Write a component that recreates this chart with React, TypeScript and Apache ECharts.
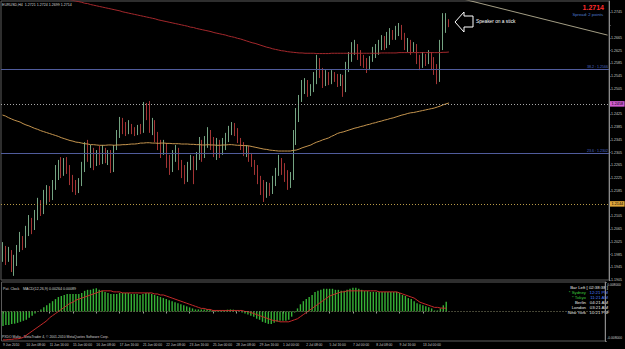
import React, { useEffect, useRef } from 'react';
import * as echarts from 'echarts';

const symbol = 'EURUSD,H4';
const timeLabels = ['9 Jun 2010', '10 Jun 08:00', '11 Jun 16:00', '15 Jun 00:00', '16 Jun 08:00', '17 Jun 16:00', '21 Jun 00:00', '22 Jun 08:00', '23 Jun 16:00', '25 Jun 00:00', '28 Jun 08:00', '29 Jun 16:00', '1 Jul 00:00', '2 Jul 08:00', '5 Jul 16:00', '7 Jul 00:00', '8 Jul 08:00', '9 Jul 16:00', '13 Jul 00:00'];
const labelEvery = 8;
const slotCount = 207;

const firstOpen = 1.1984;
const closes = [
  1.2006, 1.1974, 1.1993, 1.1952, 1.1962, 1.1999, 1.2031, 1.2015, 1.2056, 1.2087,
  1.2068, 1.2109, 1.2140, 1.2125, 1.2163, 1.2188, 1.2169, 1.2203, 1.2235, 1.2257,
  1.2244, 1.2276, 1.2250, 1.2219, 1.2200, 1.2188, 1.2213, 1.2250, 1.2313, 1.2288,
  1.2307, 1.2276, 1.2294, 1.2282, 1.2313, 1.2288, 1.2298, 1.2266, 1.2320, 1.2360,
  1.2401, 1.2382, 1.2370, 1.2389, 1.2376, 1.2370, 1.2382, 1.2376, 1.2439, 1.2423,
  1.2376, 1.2401, 1.2360, 1.2329, 1.2307, 1.2329, 1.2282, 1.2250, 1.2288, 1.2313,
  1.2266, 1.2244, 1.2225, 1.2257, 1.2282, 1.2257, 1.2288, 1.2320, 1.2298, 1.2338,
  1.2360, 1.2345, 1.2313, 1.2329, 1.2307, 1.2329, 1.2351, 1.2376, 1.2392, 1.2370,
  1.2345, 1.2329, 1.2313, 1.2320, 1.2294, 1.2276, 1.2257, 1.2225, 1.2203, 1.2181,
  1.2200, 1.2188, 1.2219, 1.2244, 1.2276, 1.2257, 1.2235, 1.2213, 1.2232, 1.2345,
  1.2414, 1.2470, 1.2502, 1.2520, 1.2495, 1.2508, 1.2533, 1.2590, 1.2558, 1.2527,
  1.2546, 1.2533, 1.2552, 1.2539, 1.2527, 1.2539, 1.2502, 1.2564, 1.2602, 1.2627,
  1.2640, 1.2612, 1.2596, 1.2583, 1.2571, 1.2596, 1.2615, 1.2627, 1.2643, 1.2659,
  1.2646, 1.2665, 1.2681, 1.2671, 1.2690, 1.2696, 1.2671, 1.2643, 1.2652, 1.2633,
  1.2643, 1.2602, 1.2580, 1.2602, 1.2590, 1.2612, 1.2596, 1.2571, 1.2533, 1.2643,
  1.2706, 1.2721, 1.2714,
];
const highs = [
  1.2024, 1.2012, 1.2009, 1.1999, 1.1984, 1.2015, 1.2056, 1.2043, 1.2075, 1.2109,
  1.2100, 1.2125, 1.2163, 1.2156, 1.2188, 1.2203, 1.2200, 1.2219, 1.2266, 1.2282,
  1.2291, 1.2288, 1.2291, 1.2266, 1.2235, 1.2219, 1.2225, 1.2276, 1.2338, 1.2345,
  1.2329, 1.2320, 1.2313, 1.2326, 1.2329, 1.2320, 1.2313, 1.2313, 1.2329, 1.2376,
  1.2417, 1.2414, 1.2401, 1.2407, 1.2395, 1.2385, 1.2392, 1.2395, 1.2464, 1.2461,
  1.2467, 1.2414, 1.2407, 1.2370, 1.2345, 1.2345, 1.2335, 1.2298, 1.2313, 1.2329,
  1.2320, 1.2282, 1.2266, 1.2276, 1.2298, 1.2294, 1.2307, 1.2354, 1.2345, 1.2357,
  1.2385, 1.2376, 1.2354, 1.2351, 1.2345, 1.2351, 1.2367, 1.2389, 1.2401, 1.2398,
  1.2382, 1.2351, 1.2338, 1.2329, 1.2326, 1.2304, 1.2282, 1.2266, 1.2232, 1.2219,
  1.2213, 1.2210, 1.2232, 1.2257, 1.2298, 1.2288, 1.2272, 1.2250, 1.2244, 1.2376,
  1.2445, 1.2486, 1.2533, 1.2539, 1.2533, 1.2520, 1.2558, 1.2612, 1.2602, 1.2571,
  1.2564, 1.2558, 1.2564, 1.2558, 1.2552, 1.2552, 1.2549, 1.2590, 1.2621, 1.2652,
  1.2659, 1.2646, 1.2627, 1.2612, 1.2602, 1.2608, 1.2637, 1.2646, 1.2659, 1.2674,
  1.2671, 1.2684, 1.2696, 1.2690, 1.2703, 1.2712, 1.2706, 1.2681, 1.2665, 1.2659,
  1.2652, 1.2646, 1.2612, 1.2621, 1.2615, 1.2627, 1.2621, 1.2605, 1.2583, 1.2659,
  1.2743, 1.2743, 1.2724,
];
const lows = [
  1.1962, 1.1952, 1.1962, 1.1930, 1.1918, 1.1949, 1.1993, 1.1999, 1.2006, 1.2043,
  1.2049, 1.2062, 1.2093, 1.2106, 1.2112, 1.2144, 1.2150, 1.2156, 1.2188, 1.2219,
  1.2225, 1.2232, 1.2238, 1.2203, 1.2181, 1.2172, 1.2178, 1.2200, 1.2244, 1.2276,
  1.2257, 1.2250, 1.2263, 1.2266, 1.2269, 1.2272, 1.2266, 1.2241, 1.2244, 1.2313,
  1.2351, 1.2363, 1.2357, 1.2363, 1.2363, 1.2357, 1.2360, 1.2363, 1.2367, 1.2407,
  1.2367, 1.2360, 1.2338, 1.2313, 1.2288, 1.2298, 1.2257, 1.2235, 1.2244, 1.2276,
  1.2250, 1.2225, 1.2206, 1.2213, 1.2250, 1.2206, 1.2250, 1.2282, 1.2276, 1.2288,
  1.2320, 1.2313, 1.2291, 1.2282, 1.2288, 1.2298, 1.2313, 1.2338, 1.2360, 1.2357,
  1.2335, 1.2313, 1.2294, 1.2291, 1.2276, 1.2260, 1.2235, 1.2206, 1.2172, 1.2150,
  1.2163, 1.2169, 1.2175, 1.2200, 1.2232, 1.2235, 1.2213, 1.2188, 1.2194, 1.2219,
  1.2329, 1.2401, 1.2464, 1.2489, 1.2480, 1.2483, 1.2495, 1.2520, 1.2539, 1.2508,
  1.2514, 1.2517, 1.2520, 1.2527, 1.2511, 1.2514, 1.2480, 1.2495, 1.2558, 1.2590,
  1.2612, 1.2596, 1.2577, 1.2571, 1.2555, 1.2564, 1.2590, 1.2602, 1.2612, 1.2627,
  1.2627, 1.2633, 1.2643, 1.2659, 1.2659, 1.2671, 1.2659, 1.2627, 1.2621, 1.2612,
  1.2621, 1.2583, 1.2564, 1.2571, 1.2577, 1.2583, 1.2564, 1.2549, 1.2520, 1.2527,
  1.2627, 1.2681, 1.2699,
];
const maSlow = [
  1.2833, 1.2831, 1.2829, 1.2827, 1.2825, 1.2823, 1.2820, 1.2818, 1.2816, 1.2814,
  1.2812, 1.2810, 1.2808, 1.2806, 1.2804, 1.2802, 1.2800, 1.2798, 1.2796, 1.2793,
  1.2791, 1.2789, 1.2787, 1.2785, 1.2783, 1.2781, 1.2779, 1.2777, 1.2774, 1.2773,
  1.2770, 1.2768, 1.2766, 1.2764, 1.2762, 1.2760, 1.2758, 1.2756, 1.2754, 1.2752,
  1.2750, 1.2747, 1.2745, 1.2743, 1.2741, 1.2739, 1.2737, 1.2735, 1.2733, 1.2731,
  1.2729, 1.2727, 1.2725, 1.2722, 1.2720, 1.2718, 1.2716, 1.2714, 1.2712, 1.2710,
  1.2708, 1.2706, 1.2704, 1.2702, 1.2699, 1.2698, 1.2695, 1.2693, 1.2691, 1.2689,
  1.2687, 1.2685, 1.2682, 1.2680, 1.2678, 1.2676, 1.2674, 1.2671, 1.2669, 1.2667,
  1.2664, 1.2662, 1.2659, 1.2656, 1.2653, 1.2650, 1.2648, 1.2645, 1.2642, 1.2639,
  1.2636, 1.2634, 1.2631, 1.2629, 1.2627, 1.2625, 1.2624, 1.2622, 1.2621, 1.2620,
  1.2619, 1.2618, 1.2618, 1.2617, 1.2617, 1.2617, 1.2617, 1.2616, 1.2616, 1.2616,
  1.2616, 1.2616, 1.2617, 1.2617, 1.2617, 1.2617, 1.2617, 1.2617, 1.2617, 1.2617,
  1.2617, 1.2617, 1.2617, 1.2617, 1.2617, 1.2617, 1.2617, 1.2617, 1.2617, 1.2618,
  1.2618, 1.2618, 1.2618, 1.2618, 1.2618, 1.2619, 1.2619, 1.2619, 1.2619, 1.2619,
  1.2619, 1.2619, 1.2619, 1.2619, 1.2619, 1.2619, 1.2619, 1.2619, 1.2619, 1.2619,
  1.2620, 1.2620, 1.2621,
];
const maFast = [
  1.2423, 1.2420, 1.2415, 1.2411, 1.2407, 1.2404, 1.2401, 1.2396, 1.2392, 1.2389,
  1.2385, 1.2381, 1.2378, 1.2374, 1.2371, 1.2368, 1.2365, 1.2362, 1.2359, 1.2356,
  1.2352, 1.2349, 1.2346, 1.2343, 1.2341, 1.2338, 1.2337, 1.2335, 1.2333, 1.2332,
  1.2330, 1.2330, 1.2329, 1.2328, 1.2328, 1.2328, 1.2329, 1.2329, 1.2328, 1.2329,
  1.2329, 1.2330, 1.2330, 1.2331, 1.2332, 1.2332, 1.2333, 1.2335, 1.2335, 1.2336,
  1.2336, 1.2335, 1.2335, 1.2334, 1.2335, 1.2335, 1.2334, 1.2334, 1.2333, 1.2333,
  1.2333, 1.2332, 1.2332, 1.2332, 1.2331, 1.2331, 1.2330, 1.2330, 1.2329, 1.2329,
  1.2330, 1.2329, 1.2329, 1.2328, 1.2328, 1.2329, 1.2329, 1.2330, 1.2330, 1.2329,
  1.2328, 1.2328, 1.2327, 1.2327, 1.2326, 1.2324, 1.2322, 1.2320, 1.2318, 1.2316,
  1.2315, 1.2313, 1.2312, 1.2311, 1.2310, 1.2310, 1.2310, 1.2310, 1.2310, 1.2312,
  1.2313, 1.2316, 1.2320, 1.2323, 1.2326, 1.2329, 1.2334, 1.2338, 1.2341, 1.2345,
  1.2348, 1.2351, 1.2356, 1.2360, 1.2365, 1.2368, 1.2370, 1.2373, 1.2376, 1.2379,
  1.2382, 1.2384, 1.2387, 1.2389, 1.2392, 1.2394, 1.2397, 1.2399, 1.2402, 1.2404,
  1.2407, 1.2409, 1.2412, 1.2414, 1.2417, 1.2420, 1.2423, 1.2425, 1.2428, 1.2430,
  1.2431, 1.2433, 1.2435, 1.2437, 1.2439, 1.2441, 1.2443, 1.2445, 1.2448, 1.2451,
  1.2455, 1.2458, 1.2461,
];
const macdMain = [
  -0.00392, -0.00364, -0.00365, -0.00336, -0.0033, -0.00308, -0.0028, -0.00252, -0.00224, -0.00168,
  -0.00112, -0.00056, 0.00008, 0.00056, 0.00112, 0.00168, 0.00224, 0.0028, 0.00336, 0.00392,
  0.0042, 0.00448, 0.00476, 0.00476, 0.00476, 0.00476, 0.00476, 0.00504, 0.0056, 0.00588,
  0.00588, 0.00616, 0.0063, 0.00588, 0.0056, 0.00532, 0.00504, 0.00476, 0.00476, 0.00476,
  0.00504, 0.00504, 0.00504, 0.00504, 0.00476, 0.00476, 0.00476, 0.00448, 0.00476, 0.00504,
  0.00504, 0.00476, 0.00448, 0.0042, 0.00392, 0.00364, 0.00336, 0.00308, 0.0028, 0.00252,
  0.00224, 0.00196, 0.00168, 0.0014, 0.00112, 0.00084, 0.00056, 0.00056, 0.00056, 0.00056,
  0.0007, 0.00056, 0.00042, 0.00028, 0.00028, 0.00028, 0.00034, 0.0005, 0.00056, 0.0005,
  0.00028, 0.00006, -0.00028, -0.00056, -0.00084, -0.00112, -0.0014, -0.00196, -0.00224, -0.0028,
  -0.00308, -0.00336, -0.00336, -0.00308, -0.0028, -0.00252, -0.00252, -0.00252, -0.00224, -0.0014,
  -0.00028, 0.00084, 0.00196, 0.0028, 0.00336, 0.00392, 0.00448, 0.00532, 0.0056, 0.00588,
  0.00616, 0.00616, 0.00616, 0.00616, 0.00588, 0.00588, 0.0056, 0.0056, 0.00588, 0.00616,
  0.00644, 0.00644, 0.00616, 0.00588, 0.0056, 0.0056, 0.00532, 0.00532, 0.00532, 0.00532,
  0.00532, 0.00532, 0.00532, 0.00532, 0.00532, 0.00532, 0.00504, 0.00448, 0.0042, 0.00364,
  0.00336, 0.0028, 0.00224, 0.00196, 0.00168, 0.0014, 0.00112, 0.00084, 0.00028, 0.00028,
  0.00084, 0.00168, 0.00264,
];
const macdSignal = [
  -0.0077, -0.0077, -0.00756, -0.00756, -0.00742, -0.00742, -0.00728, -0.007, -0.00644, -0.00588,
  -0.00532, -0.00476, -0.0042, -0.00364, -0.00308, -0.00252, -0.00168, -0.00112, -0.00056, 0.0,
  0.00056, 0.00112, 0.00168, 0.00224, 0.00252, 0.00308, 0.00336, 0.00364, 0.00392, 0.0042,
  0.00448, 0.00476, 0.00504, 0.00532, 0.0056, 0.0056, 0.0056, 0.0056, 0.00532, 0.00532,
  0.00532, 0.00504, 0.00504, 0.00504, 0.00504, 0.00504, 0.00504, 0.00504, 0.00504, 0.00504,
  0.00504, 0.00504, 0.00476, 0.00476, 0.00448, 0.00448, 0.0042, 0.00392, 0.00364, 0.00336,
  0.00308, 0.0028, 0.00252, 0.00224, 0.00196, 0.00168, 0.0014, 0.00112, 0.00084, 0.00084,
  0.00056, 0.00056, 0.00028, 0.00028, 0.00028, 0.00028, 0.00028, 0.00028, 0.00028, 0.00028,
  0.00028, 0.00028, 0.00028, 0.0, 0.0, -0.00028, -0.00056, -0.00084, -0.00112, -0.0014,
  -0.00168, -0.00196, -0.00224, -0.00252, -0.00252, -0.0028, -0.0028, -0.0028, -0.0028, -0.00252,
  -0.00224, -0.00196, -0.0014, -0.00084, -0.00028, 0.00028, 0.00084, 0.0014, 0.00196, 0.00252,
  0.00308, 0.00364, 0.0042, 0.00448, 0.00476, 0.00504, 0.00532, 0.00532, 0.0056, 0.0056,
  0.0056, 0.0056, 0.0056, 0.0056, 0.0056, 0.0056, 0.0056, 0.0056, 0.0056, 0.00532,
  0.00532, 0.00532, 0.00532, 0.00532, 0.00532, 0.00532, 0.00504, 0.00476, 0.00448, 0.0042,
  0.00392, 0.00364, 0.00308, 0.00252, 0.00224, 0.00196, 0.00168, 0.0014, 0.00112, 0.00112,
  0.00095, 0.0009, 0.00089,
];

const trendPoints = [
  { bar: 150, price: 1.2803 },
  { bar: 206, price: 1.2674 },
];
const fibLevels = [
  { level: '38.2', price: 1.2566 },
  { level: '23.6', price: 1.2302 },
];
const levelLines = [
  { price: 1.2458, kind: 'pink' },
  { price: 1.2144, kind: 'orange' },
];
const priceScale = { min: 1.1905, max: 1.27811, step: 0.004 };
const macdScale = { min: -0.008, max: 0.008, step: 0.008 };
const spreadPoints = 2;
const clockRows = [
  { city: '* Sydney', time: '12:21 PM', cityColor: '#3cc83c', timeColor: '#4f7dff' },
  { city: '* Tokyo', time: '11:21 AM', cityColor: '#3cc83c', timeColor: '#4f7dff' },
  { city: 'Berlin', time: '04:21 AM', cityColor: '#e8e8e8', timeColor: '#e8e8e8' },
  { city: 'London', time: '03:21 AM', cityColor: '#e8e8e8', timeColor: '#e8e8e8' },
  { city: 'New York', time: '10:21 PM', cityColor: '#e8e8e8', timeColor: '#e8e8e8' },
];
const barLeft = '02:38:38';

const FONT = 'Liberation Sans, Arial, sans-serif';

export default function App() {
  const ref = useRef<HTMLDivElement>(null);
  useEffect(() => {
    document.body.style.margin = '0';
    document.body.style.background = '#000';
    if (!ref.current) return;
    const chart = echarts.init(ref.current, undefined, { renderer: 'svg' });

    const opens = closes.map((_, i) => (i === 0 ? firstOpen : closes[i - 1]));
    const ohlc = closes.map((c, i) => [opens[i], c, lows[i], highs[i]]);
    const n = closes.length;
    const last = n - 1;
    const categories = Array.from({ length: slotCount }, (_, i) => String(i));
    const showLabel = (idx: number) => idx % labelEvery === 0 && idx / labelEvery < timeLabels.length;
    const trend: (number | null)[] = Array.from({ length: slotCount }, () => null);
    trendPoints.forEach((p) => { trend[p.bar] = p.price; });

    const fmt4 = (v: number) => v.toFixed(4);
    const header = `${symbol}  ${fmt4(opens[last])} ${fmt4(highs[last])} ${fmt4(lows[last])} ${fmt4(closes[last])}`;

    // price boxes drawn on the price scale cover the tick labels beneath them
    const boxPrices = [closes[last], ...levelLines.map((l) => l.price)];
    const coveredByBox = (v: number) => boxPrices.some((p) => Math.abs(p - v) < 0.0015);

    const boxLabel = (bg: string, fg: string, text: string) => ({
      show: true,
      position: 'end',
      formatter: text,
      backgroundColor: bg,
      color: fg,
      fontSize: 3.8,
      fontFamily: FONT,
      padding: [1, 1.5, 0.5, 1.5],
      distance: 1,
    });

    const markData: any[] = [];
    fibLevels.forEach((f) => {
      markData.push({
        yAxis: f.price,
        lineStyle: { color: '#505c9c', width: 1, type: 'solid' },
        label: {
          show: true,
          position: 'insideEndTop',
          formatter: `${f.level} : ${f.price.toFixed(4)}`,
          color: '#4a66c8',
          fontSize: 3.6,
          fontFamily: FONT,
          distance: 1,
        },
      });
    });
    levelLines.forEach((l) => {
      const pink = l.kind === 'pink';
      markData.push({
        yAxis: l.price,
        lineStyle: { color: pink ? '#a8a8a8' : '#b89a48', width: 1, type: [1, 2] },
        label: boxLabel(pink ? '#d25cd2' : '#e0a63a', '#000', l.price.toFixed(4)),
      });
    });
    markData.push({
      yAxis: closes[last],
      lineStyle: { opacity: 0 },
      label: boxLabel('#dfe8f2', '#000', fmt4(closes[last])),
    });

    const textStyle = (text: string, fill: string, size: number, extra: any = {}) => ({
      text,
      fill,
      fontSize: size,
      fontFamily: FONT,
      ...extra,
    });

    const graphics: any[] = [
      { type: 'text', x: 2, y: 5, style: textStyle(header, '#d8d8d8', 3.6, { textVerticalAlign: 'middle' }) },
      { type: 'text', x: 604, y: 7.5, style: textStyle(fmt4(closes[last]), '#ff2a2a', 7, { fontWeight: 'bold', textAlign: 'right', textVerticalAlign: 'middle' }) },
      { type: 'text', x: 603, y: 14.8, style: textStyle(`Spread: ${spreadPoints} points`, '#4f7fd0', 4.2, { textAlign: 'right', textVerticalAlign: 'middle' }) },
      {
        type: 'polygon',
        shape: { points: [[455, 22], [464, 12], [464, 16], [473, 16], [473, 27], [464, 27], [464, 32]] },
        style: { fill: '#000', stroke: '#ffffff', lineWidth: 1 },
      },
      { type: 'text', x: 476, y: 21, style: textStyle('Speaker on a stick', '#ffffff', 4.8, { textVerticalAlign: 'middle' }) },
      { type: 'text', x: 3, y: 289, style: textStyle('Pat. Clock', '#d0d0d0', 3.6, { textVerticalAlign: 'middle' }) },
      { type: 'text', x: 23, y: 289, style: textStyle(`MACD(12,26,9) ${macdMain[last].toFixed(5)} ${macdSignal[last].toFixed(5)}`, '#d0d0d0', 3.6, { textVerticalAlign: 'middle' }) },
      { type: 'text', x: 2, y: 336.5, style: textStyle('PXDO Mafia - MetaTrader 4, © 2001-2010 MetaQuotes Software Corp.', '#d0d0d0', 3.4, { textVerticalAlign: 'middle' }) },
      { type: 'text', x: 608, y: 287.5, style: textStyle(`Bar Left [ ${barLeft} ]`, '#e8e8e8', 4.3, { textAlign: 'right', textVerticalAlign: 'middle' }) },
    ];
    clockRows.forEach((r, k) => {
      const y = 292.5 + k * 5;
      graphics.push({ type: 'text', x: 586, y, style: textStyle(r.city, r.cityColor, 4.3, { textAlign: 'right', textVerticalAlign: 'middle' }) });
      graphics.push({ type: 'text', x: 608, y, style: textStyle(r.time, r.timeColor, 4.3, { textAlign: 'right', textVerticalAlign: 'middle' }) });
    });

    const axisLabelBase = { color: '#c8c8c8', fontSize: 3.6, fontFamily: FONT, margin: 2 };

    chart.setOption({
      animation: false,
      backgroundColor: '#000000',
      grid: [
        { left: 1, right: 14, top: 1, height: 279, show: true, borderColor: '#5c5c5c', borderWidth: 1, backgroundColor: 'transparent' },
        { left: 1, right: 14, top: 282, height: 59, show: true, borderColor: '#5c5c5c', borderWidth: 1, backgroundColor: 'transparent' },
      ],
      xAxis: [
        { type: 'category', gridIndex: 0, data: categories, boundaryGap: true, axisLine: { show: false }, axisTick: { show: false }, axisLabel: { show: false }, splitLine: { show: false } },
        {
          type: 'category', gridIndex: 1, data: categories, boundaryGap: true,
          axisLine: { show: false },
          axisTick: { show: true, alignWithLabel: true, interval: showLabel, length: 2, lineStyle: { color: '#9a9a9a' } },
          axisLabel: {
            ...axisLabelBase, fontSize: 3.3, align: 'left', interval: showLabel,
            formatter: (_v: string, idx: number) => timeLabels[idx / labelEvery] ?? '',
          },
          splitLine: { show: false },
        },
      ],
      yAxis: [
        {
          type: 'value', gridIndex: 0, position: 'right', min: priceScale.min, max: priceScale.max, interval: priceScale.step,
          axisLine: { show: true, lineStyle: { color: '#8a8a8a' } },
          axisTick: { show: true, length: 1.5, lineStyle: { color: '#8a8a8a' } },
          splitLine: { show: false },
          axisLabel: { ...axisLabelBase, showMaxLabel: false, formatter: (v: number) => (coveredByBox(v) ? '' : v.toFixed(4)) },
        },
        {
          type: 'value', gridIndex: 1, position: 'right', min: macdScale.min, max: macdScale.max, interval: macdScale.step,
          axisLine: { show: true, lineStyle: { color: '#8a8a8a' } },
          axisTick: { show: true, length: 1.5, lineStyle: { color: '#8a8a8a' } },
          splitLine: { show: false },
          axisLabel: {
            ...axisLabelBase, fontSize: 3.3, lineHeight: 6,
            formatter: (v: number) => (v === 0 ? '0' : v > 0 ? `\n${v.toFixed(6)}` : `${v.toFixed(6)}\n`),
          },
        },
      ],
      series: [
        {
          name: 'price', type: 'candlestick', xAxisIndex: 0, yAxisIndex: 0, data: ohlc, barWidth: 1.3,
          itemStyle: { color: '#74a482', color0: '#a33434', borderColor: '#74a482', borderColor0: '#a33434', borderWidth: 1 },
          markLine: { silent: true, symbol: 'none', animation: false, precision: 6, data: markData },
        },
        { name: 'MA slow', type: 'line', xAxisIndex: 0, yAxisIndex: 0, data: maSlow, symbol: 'none', clip: true, lineStyle: { color: '#a3282c', width: 1 } },
        { name: 'MA fast', type: 'line', xAxisIndex: 0, yAxisIndex: 0, data: maFast, symbol: 'none', clip: true, lineStyle: { color: '#c4944e', width: 1 } },
        { name: 'trend', type: 'line', xAxisIndex: 0, yAxisIndex: 0, data: trend, connectNulls: true, symbol: 'none', clip: true, lineStyle: { color: '#cdc5a6', width: 0.8 } },
        {
          name: 'MACD', type: 'bar', xAxisIndex: 1, yAxisIndex: 1, data: macdMain, barWidth: 1.4,
          itemStyle: { color: '#36b236' },
          markLine: {
            silent: true, symbol: 'none', animation: false, precision: 6,
            data: [{ yAxis: 0, lineStyle: { color: '#8a8a6a', width: 1, type: [1, 2] }, label: { show: false } }],
          },
        },
        { name: 'Signal', type: 'line', xAxisIndex: 1, yAxisIndex: 1, data: macdSignal, symbol: 'none', clip: true, lineStyle: { color: '#c42a2a', width: 1 } },
      ],
      graphic: graphics,
    });
    return () => chart.dispose();
  }, []);
  return <div ref={ref} style={{ width: 625, height: 349, background: '#000' }} />;
}
